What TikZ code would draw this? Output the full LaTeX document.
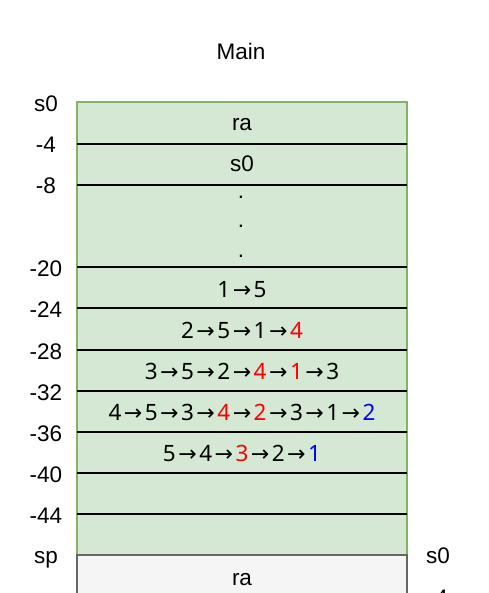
\documentclass[tikz,border=0pt]{standalone}
\usepackage{fontspec}
\setmainfont{Liberation Sans}
\newfontfamily\rowfont{Noto Sans}
\newfontfamily\arrowfont{DejaVu Sans}
\newcommand{\ra}{\hspace{2.5pt}{\arrowfont\fontsize{22}{26}\selectfont →}\hspace{2.5pt}}
\definecolor{gfill}{HTML}{D5E8D4}
\definecolor{gdraw}{HTML}{82B366}
\definecolor{pfill}{HTML}{F5F5F5}
\definecolor{pdraw}{HTML}{666666}
\definecolor{rd}{HTML}{FF0000}
\definecolor{bl}{HTML}{0000FF}
\begin{document}
\begin{tikzpicture}[x=1pt,y=-1pt,
  txt/.style={font=\fontsize{22.5}{26}\selectfont, anchor=base, inner sep=0pt},
  rowtxt/.style={font=\rowfont\fontsize{22.5}{26}\selectfont, anchor=base, inner sep=0pt},
  sepline/.style={line width=1.6pt, black},
  frame/.style={fill=gfill, draw=gdraw, line width=1.5pt},
  next/.style={fill=pfill, draw=pdraw, line width=1.5pt}]
\clip (0,0) rectangle (488,593);
\useasboundingbox (0,0) rectangle (488,593);
% title
\node[txt] (title) at (241,60) {Main};
% frame
\draw[frame] (77,102) rectangle (407,555);
\foreach \yy in {144,185,267,308,350,391,432,473,514}
  \draw[sepline] (77,\yy) -- (407,\yy);
\draw[next] (77,555) rectangle (407,640);
% row texts
\node[txt] (r1) at (242,131) {ra};
\node[txt] (r2) at (242,172) {s0};
\node[txt] (d1) at (241,199) {.};
\node[txt] (d2) at (241,228) {.};
\node[txt] (d3) at (241,257) {.};
\node[rowtxt] (r4) at (242,297) {1\ra 5};
\node[rowtxt] (r5) at (242,338) {2\ra 5\ra 1\ra \textcolor{rd}{4}};
\node[rowtxt] (r6) at (242,379) {3\ra 5\ra 2\ra \textcolor{rd}{4}\ra \textcolor{rd}{1}\ra 3};
\node[rowtxt] (r7) at (242,420) {4\ra 5\ra 3\ra \textcolor{rd}{4}\ra \textcolor{rd}{2}\ra 3\ra 1\ra \textcolor{bl}{2}};
\node[rowtxt] (r8) at (242,461) {5\ra 4\ra \textcolor{rd}{3}\ra 2\ra \textcolor{bl}{1}};
\node[txt] (n1) at (242,585) {ra};
% left labels
\node[txt] (l0) at (46,112) {s0};
\node[txt] (l1) at (46,153) {-4};
\node[txt] (l2) at (46,194) {-8};
\node[txt] (l3) at (46,276) {-20};
\node[txt] (l4) at (46,317) {-24};
\node[txt] (l5) at (46,359) {-28};
\node[txt] (l6) at (46,400) {-32};
\node[txt] (l7) at (46,441) {-36};
\node[txt] (l8) at (46,482) {-40};
\node[txt] (l9) at (46,523) {-44};
\node[txt] (l10) at (46,563) {sp};
% right labels
\node[txt] (rs0) at (438,563) {s0};
\node[txt] (rm4) at (438,605) {-4};
\end{tikzpicture}
\end{document}
